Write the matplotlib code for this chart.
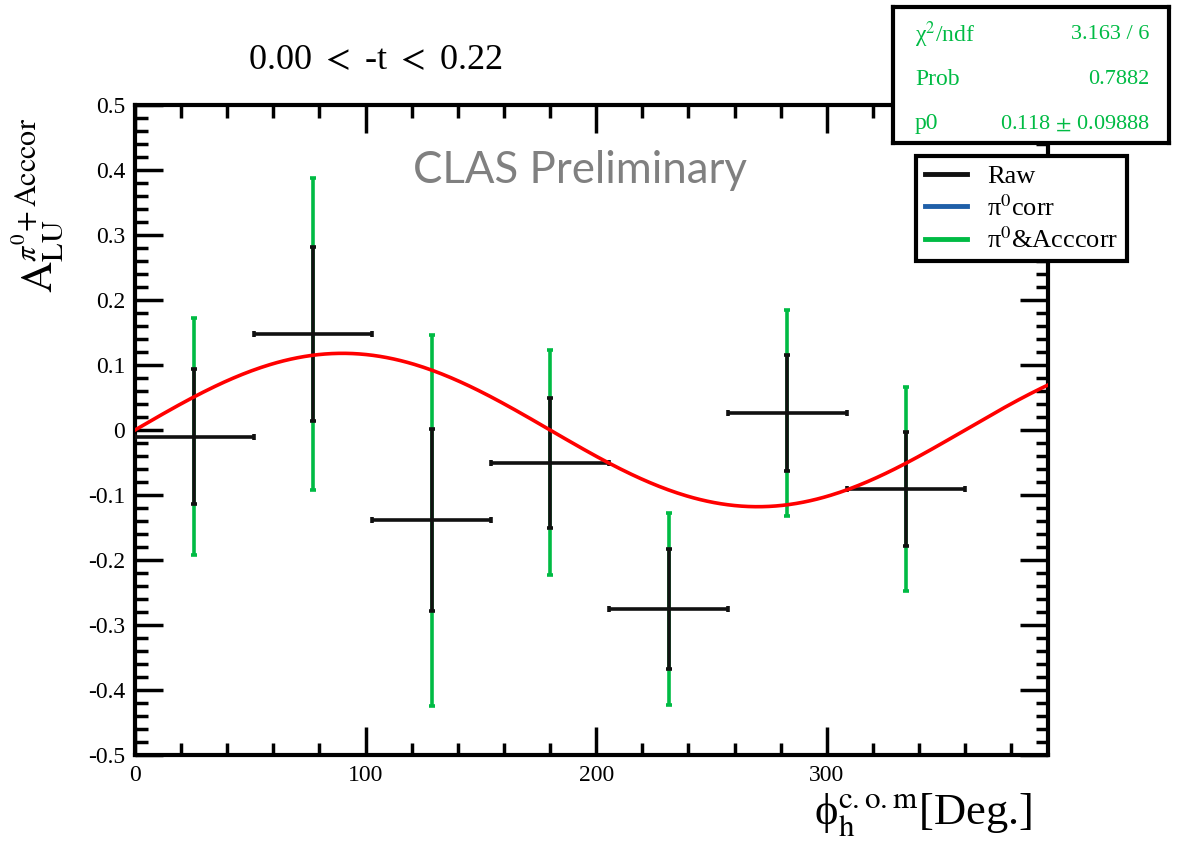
import matplotlib
matplotlib.use("Agg")
import matplotlib.pyplot as plt
import numpy as np
from matplotlib.lines import Line2D
from matplotlib.ticker import MultipleLocator, FuncFormatter

plt.rcParams['font.family'] = ['Liberation Serif', 'DejaVu Serif']
plt.rcParams['mathtext.fontset'] = 'stix'

# bin centres (deg) and half widths
phi = [25.7, 77.1, 128.6, 180.0, 231.4, 282.9, 334.3]
phi_err = [25.7, 25.7, 25.7, 25.7, 25.7, 25.7, 25.7]
# asymmetry values
alu = [-0.010, 0.148, -0.139, -0.050, -0.275, 0.026, -0.091]
err_raw = [0.104, 0.134, 0.140, 0.100, 0.092, 0.089, 0.088]
err_acc = [0.182, 0.240, 0.285, 0.173, 0.148, 0.158, 0.157]

p0 = 0.118
x_max = 396

GREEN = '#00bb44'
BLUE = '#1f5fa8'

fig = plt.figure(figsize=(11.79, 8.44), dpi=100)
ax = fig.add_axes([0.1145, 0.1055, 0.7745, 0.770])

ax.errorbar(phi, alu, yerr=err_acc, fmt='none', ecolor=GREEN, elinewidth=2.6,
            capsize=2.5, capthick=2.6, zorder=2)
ax.errorbar(phi, alu, xerr=phi_err, yerr=err_raw, fmt='none', ecolor='#111111',
            elinewidth=2.6, capsize=2.5, capthick=2.6, zorder=3)

xf = np.linspace(0, x_max, 400)
fit_line, = ax.plot(xf, p0 * np.sin(np.radians(xf)), color='red', lw=2.6, zorder=4)

ax.set_xlim(0, x_max)
ax.set_ylim(-0.5, 0.5)
ax.xaxis.set_major_locator(MultipleLocator(100))
ax.xaxis.set_minor_locator(MultipleLocator(20))
ax.yaxis.set_major_locator(MultipleLocator(0.1))
ax.yaxis.set_minor_locator(MultipleLocator(0.02))
ax.yaxis.set_major_formatter(FuncFormatter(lambda v, p: '0' if abs(v) < 1e-9 else f'{v:g}'))
ax.tick_params(which='both', direction='in', top=True, right=True, width=2.5,
               labelsize=17, pad=7)
ax.tick_params(which='major', length=20)
ax.tick_params(which='minor', length=9)
for s in ax.spines.values():
    s.set_linewidth(3)

ax.set_xlabel(r'ϕ$_\mathrm{h}^\mathrm{c.o.m}$[Deg.]', fontsize=32, loc='right', labelpad=2)
ax.xaxis.set_label_coords(0.982, -0.055, transform=ax.transAxes)
ax.xaxis.label.set_va('top')
ax.set_ylabel(r'$\mathrm{A}_{\mathrm{LU}}^{\pi^0\!+\mathrm{Acccor}}$', fontsize=31, loc='top')
ax.yaxis.set_label_coords(-0.077, 0.98, transform=ax.transAxes)

fig.text(0.21, 0.928, r'0.00 $<$ -t $<$ 0.22', fontsize=26, ha='left', va='center')
ax.text(0.304, 0.9, 'CLAS Preliminary', transform=ax.transAxes, fontsize=31.5,
        color='#808080', family=['Lato', 'DejaVu Sans'], ha='left', va='center')

# stats box
sb = fig.add_axes([0.7574, 0.8306, 0.2341, 0.161], zorder=10)
sb.set_xticks([])
sb.set_yticks([])
for s in sb.spines.values():
    s.set_linewidth(3)
rows = [(r'χ$^2$/ndf', '3.163 / 6'), ('Prob', '0.7882'), ('p0', r'0.118 $\pm$ 0.09888')]
for i, (k, v) in enumerate(rows):
    yy = 0.80 - i * 0.33
    sb.text(0.08, yy, k, color=GREEN, fontsize=17, ha='left', va='center', transform=sb.transAxes)
    sb.text(0.93, yy, v, color=GREEN, fontsize=16, ha='right', va='center', transform=sb.transAxes)

handles = [Line2D([], [], color='#111111', lw=3.5),
           Line2D([], [], color=BLUE, lw=3.5),
           Line2D([], [], color=GREEN, lw=3.5)]
labels = ['Raw', r'π$^0$corr', r'π$^0$&Acccorr']
leg = fig.legend(handles, labels, loc='upper left', bbox_to_anchor=(0.777, 0.8152),
                 fontsize=19, frameon=True, fancybox=False, edgecolor='black', framealpha=1,
                 handlelength=1.6, handletextpad=0.75, borderpad=0.33, labelspacing=0.25,
                 borderaxespad=0)
leg.get_frame().set_linewidth(3)
leg.set_zorder(10)

fig.savefig('out.png', dpi=100)
